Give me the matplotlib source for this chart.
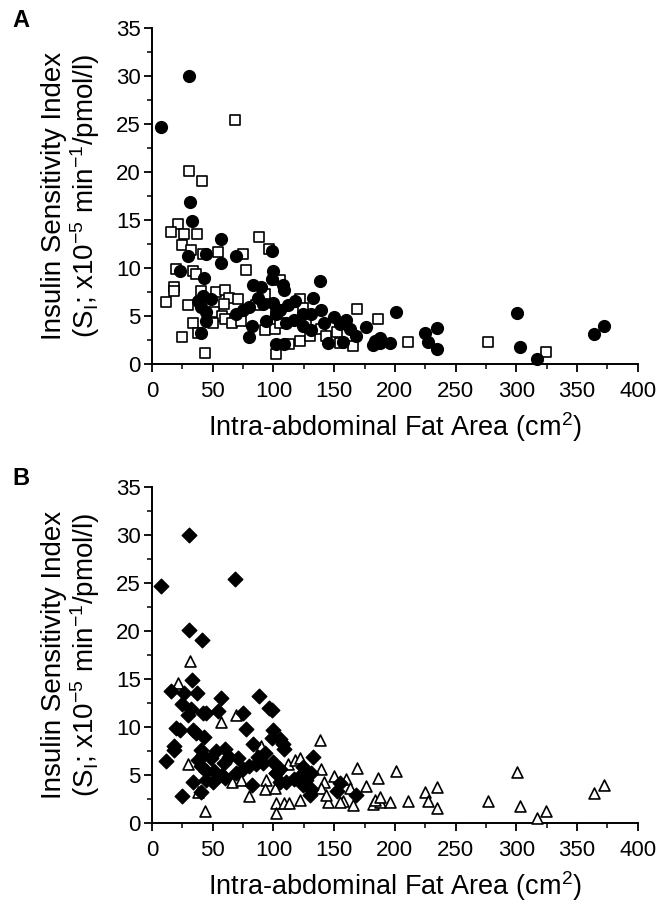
import matplotlib
matplotlib.use("Agg")
import matplotlib.pyplot as plt
from matplotlib.ticker import MultipleLocator

plt.rcParams["font.family"] = ["Liberation Sans", "DejaVu Sans"]
plt.rcParams["mathtext.default"] = "regular"

# Panel A, filled circles: fat area (cm2), SI, and whether the point is a triangle in panel B
circle_x = [30.3, 7.4, 31.6, 32.7, 57, 29.4, 44.6, 69.3, 57, 99, 23.1, 100, 99, 108, 109,
            138, 132.6, 83, 90, 43, 42, 48.7, 37.7, 40.4, 44.6, 44.6, 40.4, 80, 69, 75,
            80, 82, 94, 99.6, 102, 105, 112, 117.5, 110.6, 117, 124, 131, 139.5, 124, 131,
            142, 150, 160, 163, 168, 176, 102, 109, 145, 157, 182, 188, 196, 183.5, 201,
            155, 87, 91, 188, 225, 227, 235, 235, 300.8, 303, 317, 364, 372]
circle_y = [30.0, 24.7, 16.9, 14.9, 13.0, 11.3, 11.5, 11.2, 10.5, 11.8, 9.65, 9.65, 8.85, 8.2, 7.7,
            8.6, 6.9, 8.2, 8.0, 9.0, 7.1, 6.8, 6.6, 5.9, 5.4, 4.5, 3.2, 2.85, 5.2, 5.6,
            5.9, 4.0, 4.5, 6.4, 5.2, 5.6, 6.1, 6.6, 4.3, 4.6, 5.2, 5.2, 5.6, 4.0, 3.5,
            4.3, 4.9, 4.6, 3.65, 2.95, 3.9, 2.1, 2.1, 2.15, 2.25, 2.0, 2.15, 2.15, 2.4, 5.4,
            4.2, 6.9, 6.25, 2.75, 3.2, 2.3, 3.7, 1.6, 5.35, 1.8, 0.55, 3.15, 3.95]
circle_tri = [0, 0, 1, 0, 0, 0, 0, 1, 1, 0, 0, 0, 0, 0, 0,
              1, 0, 0, 1, 0, 0, 0, 0, 0, 0, 0, 0, 1, 0, 0,
              0, 0, 1, 0, 0, 0, 1, 1, 0, 0, 0, 0, 1, 0, 0,
              1, 1, 1, 1, 0, 1, 1, 1, 1, 1, 1, 1, 1, 1, 1,
              0, 0, 0, 1, 1, 1, 1, 1, 1, 1, 1, 1, 1]

# Panel A, open squares
square_x = [68, 30.3, 41, 21, 16, 26.7, 37, 25, 32, 42, 54.7, 75, 88, 96, 20,
            33.5, 36, 77.6, 18.4, 18.4, 11.6, 29.4, 40.4, 52.8, 60.5, 63.8, 70.7, 59, 51.4, 58,
            33.5, 37.7, 24.5, 44, 50, 59.7, 66, 73.5, 86, 92.7, 105, 92.7, 101, 105, 102.3,
            102, 113, 121.6, 127, 121.6, 130, 139.5, 152, 154.6, 165.6, 168.5, 186, 124, 143.6, 211,
            277, 324.5]
square_y = [25.4, 20.1, 19.1, 14.6, 13.7, 13.5, 13.5, 12.4, 11.9, 11.5, 11.7, 11.5, 13.2, 12.0, 9.9,
            9.7, 9.4, 9.8, 8.0, 7.6, 6.5, 6.1, 7.6, 7.5, 7.7, 6.9, 6.8, 6.25, 5.4, 5.0,
            4.3, 3.2, 2.85, 1.2, 4.3, 4.7, 4.3, 4.5, 6.1, 7.3, 8.7, 3.5, 3.65, 4.3, 5.2,
            1.0, 2.1, 2.4, 4.5, 6.8, 2.95, 3.65, 3.3, 2.15, 1.9, 5.7, 4.7, 5.85, 2.95, 2.3,
            2.3, 1.25]
square_tri = [0, 0, 0, 1, 0, 0, 0, 0, 0, 0, 0, 0, 0, 0, 0,
              0, 0, 0, 0, 0, 0, 1, 0, 0, 0, 0, 0, 0, 0, 0,
              0, 1, 0, 1, 0, 0, 1, 1, 0, 0, 0, 1, 1, 0, 0,
              1, 1, 1, 0, 1, 0, 1, 0, 1, 1, 1, 1, 0, 1, 1,
              1, 1]

x_ticks = [0, 50, 100, 150, 200, 250, 300, 350, 400]
y_ticks = [0, 5, 10, 15, 20, 25, 30, 35]

# everything pooled for panel B
all_x = circle_x + square_x
all_y = circle_y + square_y
all_tri = circle_tri + square_tri
tri_x = [x for x, t in zip(all_x, all_tri) if t]
tri_y = [y for y, t in zip(all_y, all_tri) if t]
dia_x = [x for x, t in zip(all_x, all_tri) if not t]
dia_y = [y for y, t in zip(all_y, all_tri) if not t]


def style_axes(ax):
    ax.set_xlim(0, 400)
    ax.set_ylim(0, 35)
    ax.set_xticks(x_ticks)
    ax.set_yticks(y_ticks)
    ax.xaxis.set_minor_locator(MultipleLocator(25))
    ax.yaxis.set_minor_locator(MultipleLocator(2.5))
    ax.spines["top"].set_visible(False)
    ax.spines["right"].set_visible(False)
    for side in ["left", "bottom"]:
        ax.spines[side].set_linewidth(1.4)
    ax.tick_params(which="major", direction="out", length=6, width=1.3, labelsize=16)
    ax.tick_params(axis="x", which="major", pad=6)
    ax.tick_params(axis="y", which="major", pad=2)
    ax.tick_params(which="minor", direction="out", length=3.5, width=1.1)
    ax.set_xlabel("Intra-abdominal Fat Area (cm$^{2}$)", fontsize=19.5, labelpad=6)
    ax.set_ylabel("Insulin Sensitivity Index\n(S$_{I}$; x10$^{-5}$ min$^{-1}$/pmol/l)",
                  fontsize=20, labelpad=10, linespacing=1.05)


fig = plt.figure(figsize=(6.63, 9.06), dpi=100)
ax_a = fig.add_axes([0.2293, 0.5982, 0.7326, 0.371])
ax_b = fig.add_axes([0.2293, 0.0916, 0.7326, 0.3709])

# Panel A
ax_a.scatter(square_x, square_y, marker="s", s=50, facecolors="white",
             edgecolors="black", linewidths=1.2, clip_on=False, zorder=3)
ax_a.scatter(circle_x, circle_y, marker="o", s=72, color="black", clip_on=False, zorder=3)
style_axes(ax_a)

# Panel B
ax_b.scatter(tri_x, tri_y, marker="^", s=62, facecolors="white",
             edgecolors="black", linewidths=1.2, clip_on=False, zorder=3)
ax_b.scatter(dia_x, dia_y, marker="D", s=55, color="black", clip_on=False, zorder=3)
style_axes(ax_b)

fig.text(0.019, 0.977, "A", fontsize=17, fontweight="bold", va="center")
fig.text(0.019, 0.472, "B", fontsize=17, fontweight="bold", va="center")

fig.savefig("out.png", dpi=100)
